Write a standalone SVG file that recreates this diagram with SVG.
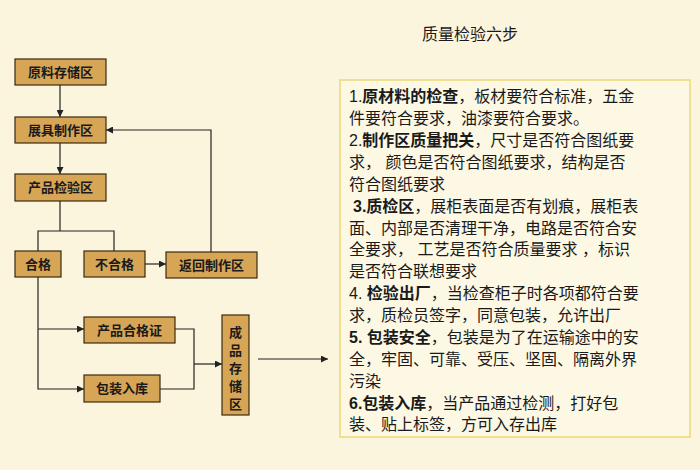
<svg xmlns="http://www.w3.org/2000/svg" width="700" height="470" viewBox="0 0 700 470">
<defs>
<style>
.n{fill:#d6a656;stroke:#3a2a10;stroke-width:1.2}
.t{font-family:"Liberation Sans","Noto Sans CJK SC",sans-serif;font-size:13px;font-weight:bold;fill:#1a1a1a;text-anchor:middle}
.c{fill:none;stroke:#222;stroke-width:1.2}
.p{font-family:"Liberation Sans","Noto Sans CJK SC",sans-serif;font-size:16px;fill:#1a1a1a}
.b{font-weight:bold}
</style>
<marker id="a" viewBox="0 0 10 10" refX="10" refY="5" markerWidth="7" markerHeight="7" markerUnits="userSpaceOnUse" orient="auto"><path d="M0,0L10,5L0,10z" fill="#222"/></marker>
</defs>
<rect width="700" height="470" fill="#fcf5dd"/>
<text x="470" y="40" class="p" text-anchor="middle">质量检验六步</text>
<g id="connectors">
<path class="c" d="M60,85V117" marker-end="url(#a)"/>
<path class="c" d="M60,143V174" marker-end="url(#a)"/>
<path class="c" d="M60,201V231"/>
<path class="c" d="M38,251V231H114V251"/>
<path class="c" d="M145,264H166" marker-end="url(#a)"/>
<path class="c" d="M211,252V130H106" stroke-width="3" marker-end="url(#a)"/>
<path class="c" d="M38,277V389H84" marker-end="url(#a)"/>
<path class="c" d="M38,329H84" marker-end="url(#a)"/>
<path class="c" d="M175,329H194V389H160"/>
<path class="c" d="M194,364H222" marker-end="url(#a)"/>
<path class="c" d="M258,359H328" marker-end="url(#a)"/>
</g>
<g id="n1"><rect class="n" x="15" y="59" width="91" height="26"/><text class="t" x="60.5" y="77">原料存储区</text></g>
<g id="n2"><rect class="n" x="15" y="117" width="91" height="26"/><text class="t" x="60.5" y="135">展具制作区</text></g>
<g id="n3"><rect class="n" x="15" y="174" width="91" height="27"/><text class="t" x="60.5" y="192">产品检验区</text></g>
<g id="n4"><rect class="n" x="15" y="251" width="46" height="26"/><text class="t" x="38" y="269">合格</text></g>
<g id="n5"><rect class="n" x="84" y="251" width="61" height="26"/><text class="t" x="114.5" y="269">不合格</text></g>
<g id="n6"><rect class="n" x="166" y="252" width="91" height="26"/><text class="t" x="211.5" y="270">返回制作区</text></g>
<g id="n7"><rect class="n" x="84" y="317" width="91" height="26"/><text class="t" x="129.5" y="335">产品合格证</text></g>
<g id="n8"><rect class="n" x="84" y="375" width="76" height="27"/><text class="t" x="122" y="393">包装入库</text></g>
<g id="n9"><rect class="n" x="222" y="315" width="27" height="100"/><text class="t" x="235.5" y="337">成</text><text class="t" x="235.5" y="355">品</text><text class="t" x="235.5" y="373">存</text><text class="t" x="235.5" y="391">储</text><text class="t" x="235.5" y="409">区</text></g>
<g id="textbox">
<rect x="340" y="80" width="350" height="357" fill="#fdf8e4" stroke="#ecd77a" stroke-width="1.5"/>
<text class="p" x="349" y="102"><tspan>1.</tspan><tspan class="b">原材料的检查</tspan><tspan>，板材要符合标准，五金</tspan></text>
<text class="p" x="349" y="124">件要符合要求，油漆要符合要求。</text>
<text class="p" x="349" y="146"><tspan>2.</tspan><tspan class="b">制作区质量把关</tspan><tspan>，尺寸是否符合图纸要</tspan></text>
<text class="p" x="349" y="168">求， 颜色是否符合图纸要求，结构是否</text>
<text class="p" x="349" y="190">符合图纸要求</text>
<text class="p" x="353" y="212"><tspan class="b">3.质检区</tspan><tspan>，展柜表面是否有划痕，展柜表</tspan></text>
<text class="p" x="349" y="234">面、内部是否清理干净，电路是否符合安</text>
<text class="p" x="349" y="255">全要求， 工艺是否符合质量要求 ，标识</text>
<text class="p" x="349" y="277">是否符合联想要求</text>
<text class="p" x="349" y="299"><tspan>4. </tspan><tspan class="b">检验出厂</tspan><tspan>，当检查柜子时各项都符合要</tspan></text>
<text class="p" x="349" y="321">求，质检员签字，同意包装，允许出厂</text>
<text class="p" x="349" y="343"><tspan class="b">5. 包装安全</tspan><tspan>，包装是为了在运输途中的安</tspan></text>
<text class="p" x="349" y="365">全，牢固、可靠、受压、坚固、隔离外界</text>
<text class="p" x="349" y="387">污染</text>
<text class="p" x="349" y="409"><tspan class="b">6.包装入库</tspan><tspan>，当产品通过检测，打好包</tspan></text>
<text class="p" x="349" y="430">装、贴上标签，方可入存出库</text>
</g>
</svg>
